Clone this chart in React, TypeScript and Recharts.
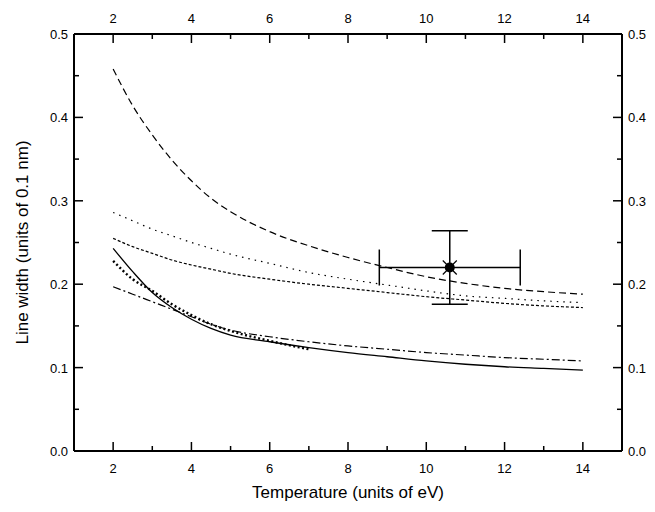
import { ComposedChart, Line, Scatter, ErrorBar, XAxis, YAxis } from "recharts";

// temperatures (eV) at which the curves were read
const temps = [2, 2.5, 3, 3.5, 4, 4.5, 5, 6, 7, 8, 9, 10, 11, 12, 13, 14];

// line widths, units of 0.1 nm
const longDash = [0.458, 0.414, 0.379, 0.349, 0.324, 0.303, 0.287, 0.263, 0.246, 0.232, 0.22, 0.209, 0.201, 0.195, 0.191, 0.188];
const sparseDot = [0.286, 0.276, 0.266, 0.258, 0.25, 0.243, 0.236, 0.225, 0.214, 0.206, 0.199, 0.192, 0.186, 0.183, 0.18, 0.178];
const shortDash = [0.255, 0.245, 0.237, 0.229, 0.223, 0.218, 0.213, 0.206, 0.2, 0.195, 0.19, 0.185, 0.181, 0.177, 0.174, 0.172];
const solid = [0.243, 0.215, 0.19, 0.172, 0.158, 0.147, 0.139, 0.131, 0.124, 0.118, 0.113, 0.108, 0.104, 0.101, 0.099, 0.097];
const heavyDot = [0.228, 0.206, 0.192, 0.176, 0.163, 0.152, 0.144, 0.132, 0.122];
const dashDot = [0.197, 0.188, 0.179, 0.17, 0.161, 0.152, 0.145, 0.137, 0.131, 0.126, 0.122, 0.118, 0.115, 0.112, 0.11, 0.108];

// measured point with error bars
const measured = [{ t: 10.6, w: 0.22, et: 1.8, ew: 0.044 }];

const xTicks = [1, 2, 3, 4, 5, 6, 7, 8, 9, 10, 11, 12, 13, 14, 15];
const yTicks = [0, 0.05, 0.1, 0.15, 0.2, 0.25, 0.3, 0.35, 0.4, 0.45, 0.5];

const data = temps.map((t, i) => ({
  t,
  longDash: longDash[i],
  sparseDot: sparseDot[i],
  shortDash: shortDash[i],
  solid: solid[i],
  heavyDot: heavyDot[i],
  dashDot: dashDot[i],
}));

const FONT = "'Liberation Sans', Arial, sans-serif";
const MAJOR = 9;
const MINOR = 5;

const isMajorX = (v: number) => v % 2 === 0;
const isMajorY = (v: number) => Math.round(v * 100) % 10 === 0;

function xTick(side: "top" | "bottom") {
  return (props: any) => {
    const { x, y, payload } = props;
    const v = payload.value;
    if (v === 1 || v === 15) return <g />;
    const len = isMajorX(v) ? MAJOR : MINOR;
    const dir = side === "bottom" ? -1 : 1;
    return (
      <g>
        <line x1={x} x2={x} y1={y} y2={y + dir * len} stroke="#000" strokeWidth={1.5} />
        {isMajorX(v) && (
          <text
            x={x}
            y={side === "bottom" ? y + 22 : y - 11}
            textAnchor="middle"
            fontSize={13}
            fontFamily={FONT}
            fill="#000"
          >
            {v}
          </text>
        )}
      </g>
    );
  };
}

function yTick(side: "left" | "right") {
  return (props: any) => {
    const { x, y, payload } = props;
    const v = payload.value;
    const len = isMajorY(v) ? MAJOR : MINOR;
    const dir = side === "left" ? 1 : -1;
    return (
      <g>
        <line x1={x} x2={x + dir * len} y1={y} y2={y} stroke="#000" strokeWidth={1.5} />
        {isMajorY(v) && (
          <text
            x={side === "left" ? x - 6 : x + 6}
            y={y + 5}
            textAnchor={side === "left" ? "end" : "start"}
            fontSize={13}
            fontFamily={FONT}
            fill="#000"
          >
            {v.toFixed(1)}
          </text>
        )}
      </g>
    );
  };
}

const Marker = (props: any) => {
  const { cx, cy } = props;
  return (
    <g>
      <circle cx={cx} cy={cy} r={5} fill="#000" />
      <line x1={cx - 7} y1={cy - 7} x2={cx + 7} y2={cy + 7} stroke="#000" strokeWidth={1.2} />
      <line x1={cx - 7} y1={cy + 7} x2={cx + 7} y2={cy - 7} stroke="#000" strokeWidth={1.2} />
    </g>
  );
};

const axisLine = { stroke: "#000", strokeWidth: 2 };

export default function App() {
  return (
    <div style={{ fontFamily: FONT }}>
      <ComposedChart
        width={640}
        height={496}
        data={data}
        margin={{ top: 6, right: 6, bottom: 3, left: 6 }}
      >
        <XAxis
          xAxisId="b"
          dataKey="t"
          type="number"
          domain={[1, 15]}
          ticks={xTicks}
          interval={0}
          allowDataOverflow
          height={50}
          tickSize={0}
          tickMargin={0}
          tickLine={false}
          axisLine={axisLine}
          tick={xTick("bottom")}
          label={{ value: "Temperature (units of eV)", position: "center", dy: 16, fontSize: 17, fill: "#000" }}
        />
        <XAxis
          xAxisId="t"
          dataKey="t"
          orientation="top"
          type="number"
          domain={[1, 15]}
          ticks={xTicks}
          interval={0}
          allowDataOverflow
          height={20}
          tickSize={0}
          tickMargin={0}
          tickLine={false}
          axisLine={axisLine}
          tick={xTick("top")}
        />
        <YAxis
          yAxisId="l"
          type="number"
          domain={[0, 0.5]}
          ticks={yTicks}
          interval={0}
          allowDataOverflow
          width={60}
          tickSize={0}
          tickMargin={0}
          tickLine={false}
          axisLine={axisLine}
          tick={yTick("left")}
          label={{ value: "Line width (units of 0.1 nm)", angle: -90, position: "center", dx: -22, fontSize: 17, fill: "#000" }}
        />
        <YAxis
          yAxisId="r"
          orientation="right"
          type="number"
          domain={[0, 0.5]}
          ticks={yTicks}
          interval={0}
          allowDataOverflow
          width={20}
          tickSize={0}
          tickMargin={0}
          tickLine={false}
          axisLine={axisLine}
          tick={yTick("right")}
        />

        {/* invisible series so the top and right axes share the same scale */}
        <Line xAxisId="t" yAxisId="r" type="monotone" dataKey="solid" stroke="none" dot={false} isAnimationActive={false} />

        <Line xAxisId="b" yAxisId="l" type="monotone" dataKey="longDash" stroke="#000" strokeWidth={1.2} strokeDasharray="7 4" dot={false} isAnimationActive={false} />
        <Line xAxisId="b" yAxisId="l" type="monotone" dataKey="sparseDot" stroke="#000" strokeWidth={1.2} strokeDasharray="1.5 5" dot={false} isAnimationActive={false} />
        <Line xAxisId="b" yAxisId="l" type="monotone" dataKey="shortDash" stroke="#000" strokeWidth={1.2} strokeDasharray="3 2" dot={false} isAnimationActive={false} />
        <Line xAxisId="b" yAxisId="l" type="monotone" dataKey="solid" stroke="#000" strokeWidth={1.3} dot={false} isAnimationActive={false} />
        <Line xAxisId="b" yAxisId="l" type="monotone" dataKey="heavyDot" stroke="#000" strokeWidth={2.4} strokeDasharray="2 2.5" dot={false} isAnimationActive={false} />
        <Line xAxisId="b" yAxisId="l" type="monotone" dataKey="dashDot" stroke="#000" strokeWidth={1.2} strokeDasharray="8 3 2 3" dot={false} isAnimationActive={false} />

        <Scatter xAxisId="b" yAxisId="l" data={measured} dataKey="w" shape={<Marker />} isAnimationActive={false}>
          <ErrorBar dataKey="et" direction="x" width={18} stroke="#000" strokeWidth={1.5} />
          <ErrorBar dataKey="ew" direction="y" width={18} stroke="#000" strokeWidth={1.5} />
        </Scatter>
      </ComposedChart>
    </div>
  );
}
